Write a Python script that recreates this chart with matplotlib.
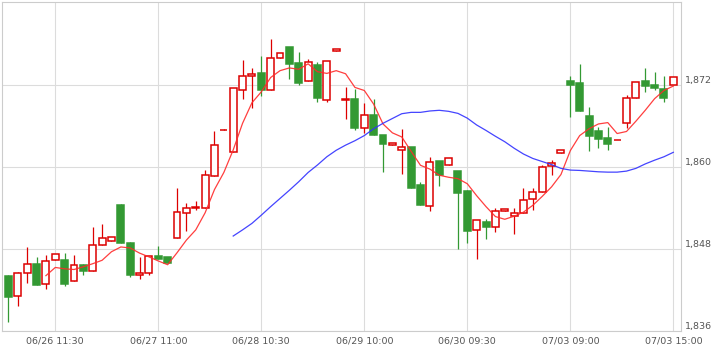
import matplotlib
matplotlib.use('Agg')
import matplotlib.pyplot as plt
from matplotlib.patches import Rectangle


# candle data, one entry per bar
opens = [1844.05, 1841.08, 1844.44, 1845.80, 1842.83, 1846.35, 1846.39, 1843.27, 1845.61, 1844.74,
         1848.54, 1849.13, 1854.44, 1848.83, 1844.15, 1844.53, 1846.98, 1846.83, 1849.57, 1853.22,
         1854.00, 1853.96, 1858.68, 1865.40, 1862.15, 1871.22, 1873.37, 1873.76, 1871.22, 1875.91,
         1877.52, 1875.17, 1872.54, 1874.93, 1869.76, 1876.93, 1869.80, 1869.90, 1865.66, 1867.57,
         1864.64, 1863.27, 1862.44, 1862.93, 1857.37, 1854.25, 1860.88, 1860.25, 1859.41, 1856.49,
         1850.74, 1851.95, 1851.18, 1853.52, 1852.87, 1853.22, 1855.27, 1856.30, 1860.15, 1862.00,
         1872.54, 1872.25, 1867.46, 1865.27, 1864.20, 1863.90, 1866.40, 1870.05, 1872.54, 1872.00,
         1871.37, 1872.00]
highs = [1844.20, 1844.68, 1848.25, 1846.78, 1847.12, 1847.22, 1847.37, 1847.08, 1845.75, 1851.27,
         1851.61, 1849.70, 1854.59, 1849.02, 1846.87, 1846.98, 1848.44, 1846.83, 1856.88, 1854.69,
         1855.07, 1859.56, 1865.27, 1865.50, 1871.52, 1875.66, 1874.44, 1876.20, 1878.73, 1876.64,
         1877.52, 1876.79, 1875.80, 1875.41, 1875.47, 1877.22, 1871.75, 1871.37, 1869.32, 1869.90,
         1864.73, 1863.47, 1865.52, 1862.93, 1857.85, 1861.51, 1860.88, 1861.27, 1859.41, 1856.63,
         1852.20, 1852.39, 1853.96, 1853.85, 1853.96, 1856.97, 1856.97, 1860.29, 1861.02, 1862.49,
         1873.32, 1875.03, 1868.74, 1865.81, 1865.81, 1863.95, 1870.54, 1872.40, 1874.44, 1873.86,
         1873.32, 1873.13]
lows = [1837.30, 1839.66, 1842.98, 1842.70, 1842.10, 1846.35, 1842.54, 1843.27, 1844.15, 1844.74,
        1848.54, 1849.13, 1848.83, 1843.90, 1843.57, 1844.15, 1846.58, 1846.00, 1849.57, 1850.59,
        1853.66, 1853.96, 1858.68, 1865.40, 1862.15, 1869.95, 1868.68, 1870.39, 1871.22, 1875.91,
        1872.83, 1872.00, 1872.54, 1869.47, 1869.56, 1876.93, 1867.02, 1865.41, 1864.93, 1864.73,
        1859.31, 1863.27, 1858.93, 1856.97, 1854.48, 1853.56, 1857.22, 1860.25, 1847.96, 1848.83,
        1846.49, 1849.42, 1850.44, 1853.52, 1850.15, 1853.22, 1853.71, 1856.30, 1858.83, 1862.00,
        1867.36, 1868.24, 1862.34, 1862.74, 1862.49, 1863.90, 1865.75, 1870.05, 1870.93, 1871.27,
        1869.56, 1872.00]
closes = [1840.98, 1844.44, 1845.85, 1842.78, 1846.20, 1847.22, 1842.88, 1845.61, 1844.82, 1848.54,
          1849.65, 1849.70, 1848.83, 1844.24, 1844.53, 1846.98, 1846.58, 1846.00, 1853.37, 1854.05,
          1854.10, 1858.78, 1863.17, 1865.46, 1871.52, 1873.27, 1873.57, 1871.22, 1875.91, 1876.64,
          1875.12, 1872.34, 1875.41, 1870.05, 1875.47, 1877.22, 1869.95, 1865.75, 1867.57, 1864.73,
          1863.41, 1863.47, 1862.93, 1856.97, 1854.48, 1860.78, 1858.83, 1861.27, 1856.15, 1850.68,
          1852.20, 1851.27, 1853.56, 1853.85, 1853.22, 1855.13, 1856.30, 1859.96, 1860.63, 1862.49,
          1872.05, 1868.24, 1864.58, 1864.14, 1863.32, 1863.95, 1870.05, 1872.40, 1871.90, 1871.60,
          1870.14, 1873.13]

# moving average lines as drawn in the reference
ma_short_start = 4
ma_short = [1844.10, 1845.30, 1845.10, 1845.00, 1845.40, 1845.85, 1846.35, 1847.60, 1848.30, 1848.15,
            1847.40, 1846.85, 1846.25, 1845.70, 1847.45, 1849.30, 1850.80, 1853.30, 1856.70, 1859.20,
            1862.50, 1866.40, 1869.40, 1871.00, 1873.10, 1874.10, 1874.50, 1874.30, 1875.10, 1873.95,
            1873.70, 1874.10, 1873.65, 1871.65, 1871.20, 1869.20, 1866.30, 1865.00, 1864.40, 1862.30,
            1860.25, 1859.70, 1858.80, 1858.50, 1858.30, 1857.55, 1855.80, 1854.20, 1852.75, 1852.35,
            1852.80, 1853.40, 1854.40, 1855.70, 1857.10, 1858.90, 1862.40, 1864.60, 1865.60, 1866.30,
            1866.50, 1864.90, 1865.20, 1866.70, 1868.30, 1870.00, 1871.20, 1871.85]
ma_long_start = 24
ma_long = [1849.90, 1850.80, 1851.75, 1852.95, 1854.20, 1855.40, 1856.60, 1857.85, 1859.20, 1860.30,
           1861.50, 1862.45, 1863.20, 1863.85, 1864.60, 1865.60, 1866.40, 1867.10, 1867.80, 1868.00,
           1868.00, 1868.20, 1868.30, 1868.15, 1867.85, 1867.15, 1866.15, 1865.35, 1864.50, 1863.70,
           1862.75, 1861.90, 1861.25, 1860.80, 1860.35, 1859.80, 1859.55, 1859.50, 1859.40, 1859.30,
           1859.25, 1859.25, 1859.40, 1859.80, 1860.45, 1861.00, 1861.50, 1862.15]

xtick_pos = [5, 16, 27, 38, 49, 60, 71]
xtick_labels = ['06/26 11:30', '06/27 11:00', '06/28 10:30', '06/29 10:00',
                '06/30 09:30', '07/03 09:00', '07/03 15:00']
ytick_vals = [1836, 1848, 1860, 1872]

UP_COLOR = '#dd0000'
DOWN_COLOR = '#339933'
GRID_COLOR = '#dcdcdc'
TEXT_COLOR = '#555555'


def main():
    fig = plt.figure(figsize=(7.22, 3.53), dpi=100)
    ax = fig.add_axes([2 / 722, 1 - 331 / 353, 679 / 722, 329 / 353])

    w = 0.74
    for i in range(len(opens)):
        o, h, l, c = opens[i], highs[i], lows[i], closes[i]
        up = c >= o
        col = UP_COLOR if up else DOWN_COLOR
        ax.vlines(i, l, h, color=col, lw=0.9, zorder=2)
        ax.add_patch(Rectangle((i - w / 2, min(o, c)), w, abs(c - o),
                               facecolor='white' if up else col,
                               edgecolor=col, lw=1.1, zorder=3))

    xs = range(ma_short_start, ma_short_start + len(ma_short))
    ax.plot(xs, ma_short, color='#ff2a2a', lw=0.9, alpha=0.9, zorder=4)
    xl = range(ma_long_start, ma_long_start + len(ma_long))
    ax.plot(xl, ma_long, color='#3030ff', lw=0.9, alpha=0.9, zorder=4)

    ax.set_xlim(-0.69, 71.82)
    ax.set_ylim(1836, 1884.15)

    ax.set_xticks(xtick_pos)
    ax.set_xticklabels(xtick_labels)
    ax.set_yticks(ytick_vals)
    ax.set_yticklabels(['{:,}'.format(v) for v in ytick_vals])
    ax.yaxis.tick_right()
    for t in ax.get_yticklabels():
        t.set_va('bottom')

    ax.tick_params(axis='both', length=0, labelsize=6.8, labelcolor=TEXT_COLOR)
    ax.tick_params(axis='x', pad=4)
    ax.tick_params(axis='y', pad=3)
    ax.grid(True, color=GRID_COLOR, lw=0.8, zorder=0)
    ax.set_axisbelow(True)
    for sp in ax.spines.values():
        sp.set_color('#cccccc')
        sp.set_linewidth(0.8)

    fig.savefig('out.png', dpi=100)


if __name__ == '__main__':
    main()
